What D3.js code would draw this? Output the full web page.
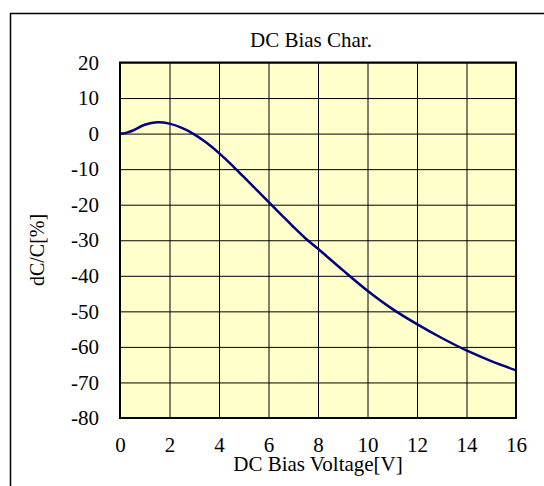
<!DOCTYPE html>
<html>
<head>
<meta charset="utf-8">
<script src="https://cdn.jsdelivr.net/npm/d3@7"></script>
<style>
  body { margin: 0; background: #fff; }
  svg text { font-family: "Liberation Serif", "Times New Roman", serif; fill: #000; }
</style>
</head>
<body>
<div id="container"></div>
<script>
// bias voltage [V] and capacitance change [%]
var voltage = [0, 0.25, 0.5, 1.0, 1.5, 2.0, 2.5, 3.0, 3.5, 4.0, 4.5, 5.0, 5.5, 6.0, 6.5, 7.0, 7.5, 8.0, 9.0, 10.0, 11.0, 12.0, 13.0, 14.0, 15.0, 16.0];
var dC = [0, 0.2, 0.8, 2.5, 3.2, 2.8, 1.6, -0.2, -2.6, -5.5, -8.7, -12.2, -15.7, -19.2, -22.7, -26.2, -29.5, -32.4, -38.4, -44.2, -49.3, -53.6, -57.5, -61.0, -64.0, -66.6];
var xTicks = [0, 2, 4, 6, 8, 10, 12, 14, 16];
var yTicks = [20, 10, 0, -10, -20, -30, -40, -50, -60, -70, -80];

var W = 544, H = 486,
    margin = {top: 62.5, left: 120, right: 28, bottom: 68},
    width = W - margin.left - margin.right,
    height = H - margin.top - margin.bottom;

var svg = d3.select("div#container").append("svg").attr("width", W).attr("height", H);

// outer frame, runs off the right and bottom of the picture
svg.append("rect")
   .attr("x", 10.5).attr("y", 13.5)
   .attr("width", 600).attr("height", 600)
   .attr("fill", "none").attr("stroke", "#000").style("stroke-width", 1.5);

var g = svg.append("g").attr("transform", "translate(" + margin.left + "," + margin.top + ")");

var xScale = d3.scaleLinear().domain([0, 16]).range([0, width]);
var yScale = d3.scaleLinear().domain([-80, 20]).range([height, 0]);

g.append("rect").attr("width", width).attr("height", height).attr("fill", "#ffffcc");

// grid
g.append("g")
 .call(d3.axisBottom(xScale).tickValues(xTicks).tickSize(height).tickFormat(""))
 .call(function(a) { a.select(".domain").remove(); })
 .selectAll("line").attr("stroke", "#000").style("stroke-width", 1);
g.append("g")
 .call(d3.axisLeft(yScale).tickValues(yTicks).tickSize(-width).tickFormat(""))
 .call(function(a) { a.select(".domain").remove(); })
 .selectAll("line").attr("stroke", "#000").style("stroke-width", 1);

// tick labels (plain hyphen for the minus sign, like the original)
var fmt = function(d) { return String(d); };

var xAxis = g.append("g")
 .attr("transform", "translate(0," + height + ")")
 .call(d3.axisBottom(xScale).tickValues(xTicks).tickSize(0).tickPadding(19).tickFormat(fmt))
 .attr("font-family", "Liberation Serif").attr("font-size", 21);
xAxis.select(".domain").remove();
xAxis.selectAll("text").attr("fill", "#000");

var yAxis = g.append("g")
 .call(d3.axisLeft(yScale).tickValues(yTicks).tickSize(0).tickPadding(21).tickFormat(fmt))
 .attr("font-family", "Liberation Serif").attr("font-size", 21);
yAxis.select(".domain").remove();
yAxis.selectAll("text").attr("fill", "#000");

// curve
var line = d3.line()
  .curve(d3.curveCatmullRom.alpha(0.5))
  .x(function(d, i) { return xScale(voltage[i]); })
  .y(function(d) { return yScale(d); });

g.append("path")
 .datum(dC)
 .attr("d", line)
 .attr("fill", "none")
 .attr("stroke", "#000080")
 .style("stroke-width", 2.5);

// plot border
g.append("rect").attr("width", width).attr("height", height)
 .attr("fill", "none").attr("stroke", "#000").style("stroke-width", 2);

// titles
svg.append("text")
   .attr("x", 311).attr("y", 46.5)
   .attr("text-anchor", "middle")
   .style("font-size", "21px")
   .text("DC Bias Char.");

svg.append("text")
   .attr("x", margin.left + width / 2).attr("y", 471)
   .attr("text-anchor", "middle")
   .style("font-size", "21px")
   .text("DC Bias Voltage[V]");

svg.append("text")
   .attr("transform", "translate(44,250) rotate(-90)")
   .attr("text-anchor", "middle")
   .style("font-size", "20px")
   .text("dC/C[%]");
</script>
</body>
</html>
